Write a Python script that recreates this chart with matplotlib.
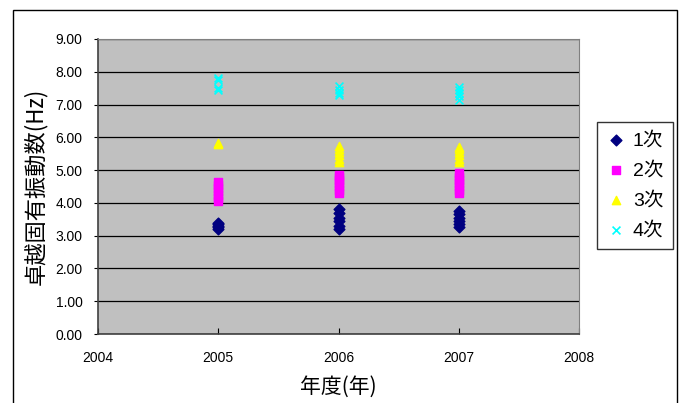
import matplotlib.pyplot as plt
from matplotlib.patches import Rectangle

plt.rcParams['font.family'] = ['Liberation Sans', 'Noto Sans CJK JP']

# measured natural frequencies per year and mode
years_1 = [2005] * 5 + [2006] * 6 + [2007] * 6
mode_1 = [3.20, 3.25, 3.30, 3.35, 3.40,
          3.20, 3.30, 3.45, 3.55, 3.70, 3.80,
          3.25, 3.35, 3.45, 3.55, 3.65, 3.75]

years_2 = [2005] * 7 + [2006] * 7 + [2007] * 7
mode_2 = [4.05, 4.15, 4.25, 4.35, 4.45, 4.55, 4.65,
          4.30, 4.40, 4.50, 4.60, 4.70, 4.80, 4.85,
          4.30, 4.40, 4.50, 4.60, 4.70, 4.80, 4.90]

years_3 = [2005] * 2 + [2006] * 6 + [2007] * 6
mode_3 = [5.80, 5.82,
          5.25, 5.35, 5.45, 5.55, 5.65, 5.75,
          5.25, 5.35, 5.45, 5.55, 5.65, 5.72]

years_4 = [2005] * 4 + [2006] * 4 + [2007] * 5
mode_4 = [7.45, 7.50, 7.75, 7.82,
          7.28, 7.35, 7.45, 7.58,
          7.15, 7.25, 7.35, 7.45, 7.55]

yticks = [0, 1, 2, 3, 4, 5, 6, 7, 8, 9]
xticks = [2004, 2005, 2006, 2007, 2008]

fig = plt.figure(figsize=(6.79, 4.03), dpi=100)
fig.patches.append(Rectangle((13 / 679, -0.1), 664 / 679, 1.1 - 10 / 403,
                             transform=fig.transFigure, fill=False,
                             edgecolor='black', linewidth=1.0))

ax = fig.add_axes([98 / 679, 69 / 403, 481 / 679, 295 / 403])
ax.set_facecolor('#c0c0c0')
ax.set_axisbelow(True)
ax.grid(axis='y', color='black', linewidth=0.9)

ax.scatter(years_1, mode_1, marker='D', s=30, color='#000080', label='1次', zorder=3)
ax.scatter(years_2, mode_2, marker='s', s=30, color='#ff00ff', label='2次', zorder=3)
ax.scatter(years_3, mode_3, marker='^', s=36, color='#ffff00', label='3次', zorder=3)
ax.scatter(years_4, mode_4, marker='x', s=32, color='#00ffff', linewidths=1.2,
           label='4次', zorder=3)

ax.set_xlim(2004, 2008)
ax.set_ylim(0, 9)
ax.set_xticks(xticks)
ax.set_xticklabels([str(x) for x in xticks])
ax.set_yticks(yticks)
ax.set_yticklabels(['%.2f' % y for y in yticks])
ax.tick_params(axis='x', direction='in', length=4, pad=12, labelsize=10)
ax.tick_params(axis='y', direction='out', length=3, pad=8, labelsize=10)

for side in ['top', 'right']:
    ax.spines[side].set_color('#808080')
for side in ['bottom', 'left']:
    ax.spines[side].set_color('#404040')
    ax.spines[side].set_linewidth(1.2)

ax.set_xlabel('年度(年)', fontsize=15, labelpad=8,
              family=['Noto Sans CJK JP'])
ax.set_ylabel('卓越固有振動数(Hz)', fontsize=16, labelpad=6,
              family=['Noto Sans CJK JP'])

leg = ax.legend(loc='upper left', bbox_to_anchor=(597 / 679, 281 / 403),
                bbox_transform=fig.transFigure, borderaxespad=0,
                frameon=True, fancybox=False, edgecolor='black',
                fontsize=14, handletextpad=0.35, borderpad=0.5,
                labelspacing=0.62, handlelength=1.0)
leg.get_frame().set_linewidth(1.0)

fig.savefig('out.png', dpi=100)
